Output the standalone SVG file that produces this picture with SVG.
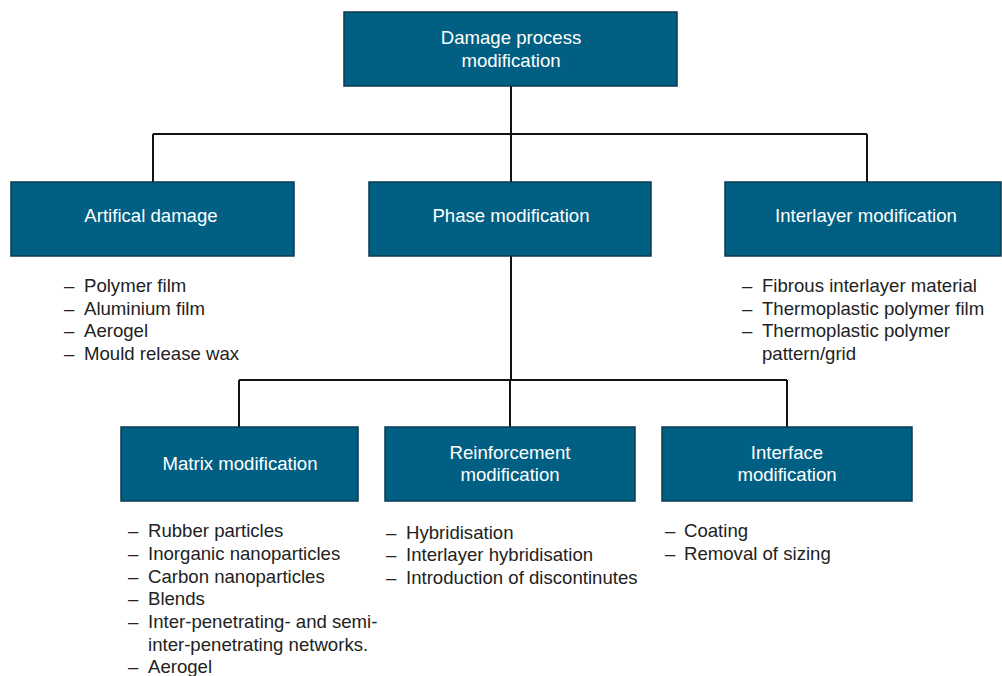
<svg xmlns="http://www.w3.org/2000/svg" width="1002" height="676" viewBox="0 0 1002 676">
<style>
.box{fill:#005f83;stroke:#0b3a50;stroke-width:1.5}
.bt{font-family:"Liberation Sans",Arial,sans-serif;font-size:18.6px;fill:#ffffff;text-anchor:middle}
.lt{font-family:"Liberation Sans",Arial,sans-serif;font-size:18.6px;fill:#222222}
.con{stroke:#111111;stroke-width:2;fill:none}
</style>
<rect width="1002" height="676" fill="#ffffff"/>
<g id="connectors">
<path class="con" d="M511 86V134M153 134H867M153 134V182M511 134V182M867 134V182"/>
<path class="con" d="M511 256V380M239 380H787M239 380V427M510 380V427M787 380V427"/>
</g>
<g id="root"><rect class="box" x="344" y="12" width="333" height="74"/>
<text class="bt" x="511" y="44">Damage process</text><text class="bt" x="511" y="67">modification</text></g>
<g id="artificial"><rect class="box" x="11" y="182" width="283" height="74"/>
<text class="bt" x="151" y="222">Artifical damage</text></g>
<g id="phase"><rect class="box" x="369" y="182" width="282" height="74"/>
<text class="bt" x="511" y="222">Phase modification</text></g>
<g id="interlayer"><rect class="box" x="725" y="182" width="276" height="74"/>
<text class="bt" x="866" y="222">Interlayer modification</text></g>
<g id="matrix"><rect class="box" x="121" y="427" width="237" height="74"/>
<text class="bt" x="240" y="470">Matrix modification</text></g>
<g id="reinforcement"><rect class="box" x="385" y="427" width="250" height="74"/>
<text class="bt" x="510" y="459">Reinforcement</text><text class="bt" x="510" y="481">modification</text></g>
<g id="interface"><rect class="box" x="662" y="427" width="250" height="74"/>
<text class="bt" x="787" y="459">Interface</text><text class="bt" x="787" y="481">modification</text></g>
<g id="list-artificial" class="lt">
<text x="64" y="292">–</text><text x="84" y="292">Polymer film</text>
<text x="64" y="315">–</text><text x="84" y="315">Aluminium film</text>
<text x="64" y="337">–</text><text x="84" y="337">Aerogel</text>
<text x="64" y="360">–</text><text x="84" y="360">Mould release wax</text>
</g>
<g id="list-interlayer" class="lt">
<text x="742" y="292">–</text><text x="762" y="292">Fibrous interlayer material</text>
<text x="742" y="315">–</text><text x="762" y="315">Thermoplastic polymer film</text>
<text x="742" y="337">–</text><text x="762" y="337">Thermoplastic polymer</text>
<text x="762" y="360">pattern/grid</text>
</g>
<g id="list-matrix" class="lt">
<text x="128" y="537">–</text><text x="148" y="537">Rubber particles</text>
<text x="128" y="560">–</text><text x="148" y="560">Inorganic nanoparticles</text>
<text x="128" y="583">–</text><text x="148" y="583">Carbon nanoparticles</text>
<text x="128" y="605">–</text><text x="148" y="605">Blends</text>
<text x="128" y="628">–</text><text x="148" y="628">Inter-penetrating- and semi-</text>
<text x="148" y="651">inter-penetrating networks.</text>
<text x="128" y="673">–</text><text x="148" y="673">Aerogel</text>
</g>
<g id="list-reinforcement" class="lt">
<text x="386" y="539">–</text><text x="406" y="539">Hybridisation</text>
<text x="386" y="561">–</text><text x="406" y="561">Interlayer hybridisation</text>
<text x="386" y="584">–</text><text x="406" y="584">Introduction of discontinutes</text>
</g>
<g id="list-interface" class="lt">
<text x="665" y="537">–</text><text x="684" y="537">Coating</text>
<text x="665" y="560">–</text><text x="684" y="560">Removal of sizing</text>
</g>
</svg>
